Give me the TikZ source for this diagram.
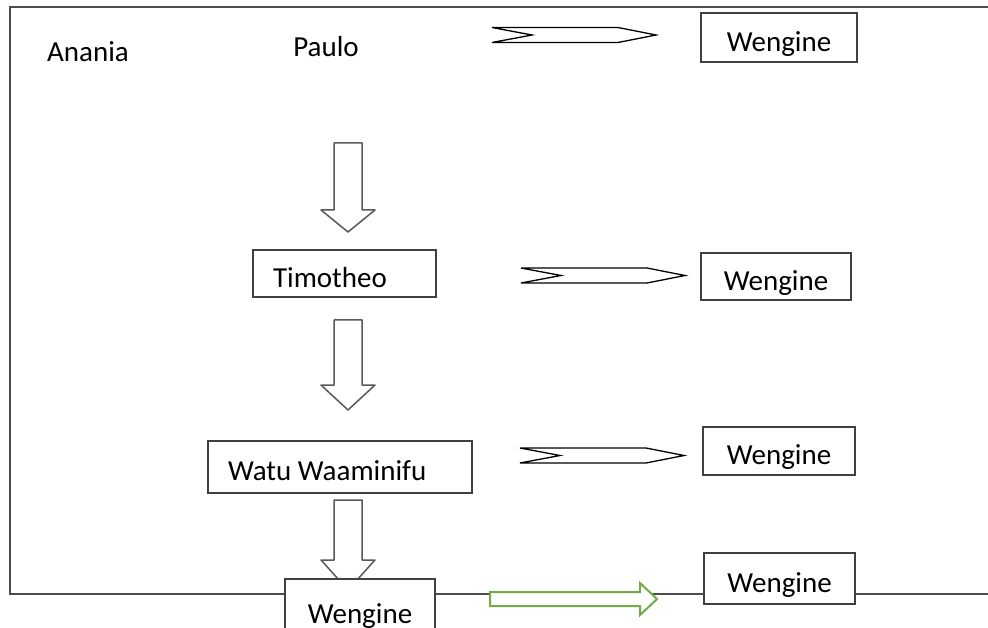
\documentclass[tikz,border=0pt]{standalone}
\usepackage{fontspec}
\setmainfont{Carlito}
\definecolor{wordgreen}{HTML}{70AD47}
\tikzset{
  box/.style={draw=black!75, line width=1.5pt, fill=white, text height=27.7pt, text depth=0pt, inner sep=0pt},
  padbox/.style={box, align=flush left, inner xsep=20pt},
  frame/.style={draw=black!70, line width=2pt},
  downarrow/.style={draw=black!65, line width=1.5pt, fill=white, line join=round},
  notcharrow/.style={draw=black, line width=1.3pt, fill=white},
  greenarrow/.style={draw=wordgreen, line width=2pt, fill=white}
}

\begin{document}
\begin{tikzpicture}[x=1pt, y=-1pt, every node/.style={font=\fontsize{29}{34}\selectfont}]
  \useasboundingbox (0,0) rectangle (988,628);
  \clip (0,0) rectangle (988,628);
  \fill[white] (0,0) rectangle (988,628);

  % frame, open on the right
  \draw[frame] (995,7) -- (10,7) -- (10,594) -- (995,594);

  \node[anchor=base] (anania) at (88,62) {Anania};
  \node[anchor=base] (paulo) at (326,57) {Paulo};

  % arrows
  \foreach \ya/\yb/\yc in {143/210/232, 320/385/410, 500/560/590} {
    \draw[downarrow] (334,\ya) -- (362,\ya) -- (362,\yb) -- (375,\yb) -- (348,\yc)
      -- (321,\yb) -- (334,\yb) -- cycle;
  }
  \foreach \xa/\ym in {492/35, 521/275.5, 520/455.5} {
    \draw[notcharrow] (\xa,\ym-7.5) -- (\xa+126,\ym-7.5) -- (\xa+164,\ym) -- (\xa+126,\ym+7.5)
      -- (\xa,\ym+7.5) -- (\xa+40,\ym) -- cycle;
  }
  \draw[greenarrow] (490,592) -- (640,592) -- (640,583) -- (657,599) -- (640,615)
    -- (640,606) -- (490,606) -- cycle;

  % boxes
  \node[box, minimum width=156pt, minimum height=49pt] (weng1) at (779,37.5) {Wengine};
  \node[padbox, text width=143pt, minimum height=47pt] (timotheo) at (344.5,273.5) {Timotheo};
  \node[box, minimum width=150pt, minimum height=47pt] (weng2) at (776,276.5) {Wengine};
  \node[padbox, text width=224pt, minimum height=52pt] (watu) at (340,467) {Watu Waaminifu};
  \node[box, minimum width=152pt, minimum height=48pt] (weng3) at (779,451) {Wengine};
  \node[box, minimum width=150pt, minimum height=62pt] (wengbot) at (360,610) {Wengine};
  \node[box, minimum width=151pt, minimum height=51pt] (weng4) at (779.5,578.5) {Wengine};
\end{tikzpicture}
\end{document}
